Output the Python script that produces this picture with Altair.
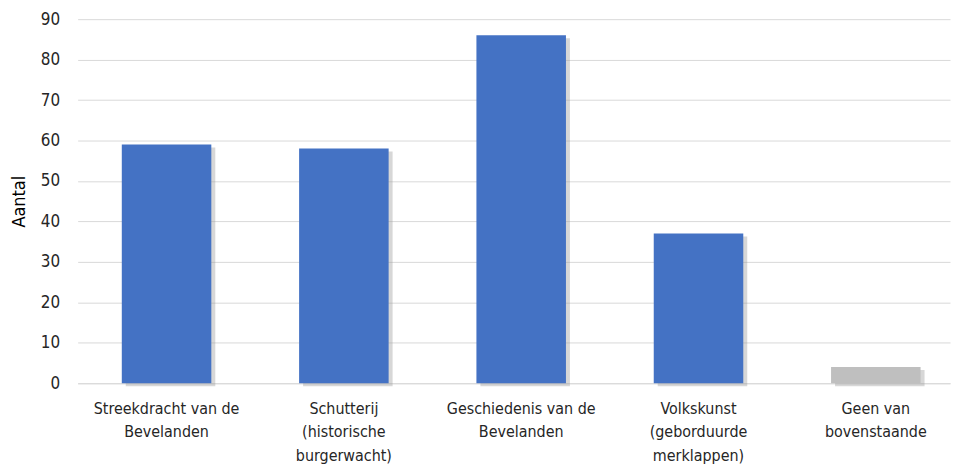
import altair as alt
import pandas as pd

categories = [
    "Streekdracht van de|Bevelanden",
    "Schutterij|(historische|burgerwacht)",
    "Geschiedenis van de|Bevelanden",
    "Volkskunst|(geborduurde|merklappen)",
    "Geen van|bovenstaande",
]
values = [59, 58, 86, 37, 4]
colors = ["#4472C4", "#4472C4", "#4472C4", "#4472C4", "#BFBFBF"]

df = pd.DataFrame({"cat": categories, "val": values, "col": colors})

FONT = "Liberation Sans Narrow, DejaVu Sans Condensed, sans-serif"

xenc = alt.X(
    "cat:N",
    sort=categories,
    scale=alt.Scale(paddingInner=0.495, paddingOuter=0.2075, align=0.6),
    axis=alt.Axis(
        title=None,
        labelAngle=0,
        labelExpr="split(datum.label, '|')",
        labelFont=FONT,
        labelFontSize=16,
        labelColor="#262626",
        labelLineHeight=24,
        labelPadding=17,
        ticks=False,
        domainColor="#D9D9D9",
        labelLimit=200,
    ),
)
yenc = alt.Y(
    "val:Q",
    scale=alt.Scale(domain=[0, 90], nice=False),
    axis=alt.Axis(
        title="Aantal",
        values=list(range(0, 91, 10)),
        grid=True,
        gridColor="#D9D9D9",
        domain=False,
        ticks=False,
        labelFont=FONT,
        labelFontSize=17,
        labelColor="#262626",
        labelPadding=18,
        titleFont=FONT,
        titleFontSize=18,
        titleFontWeight="normal",
        titleColor="#000000",
        titlePadding=12,
    ),
)

shadow = alt.Chart(df).mark_bar(
    color="#9a9a9a", opacity=0.4, xOffset=4, yOffset=3, width=90
).encode(x=xenc, y=yenc)

bars = alt.Chart(df).mark_bar(width=90).encode(
    x=xenc, y=yenc, color=alt.Color("col:N", scale=None)
)

chart = (
    alt.layer(shadow, bars)
    .properties(
        width=877,
        height=366,
        background="white",
        padding={"top": 1, "left": 2, "right": 5, "bottom": 5},
    )
    .configure_view(stroke=None)
)

chart.save("out.html", embed_options={"renderer": "svg", "actions": False})
